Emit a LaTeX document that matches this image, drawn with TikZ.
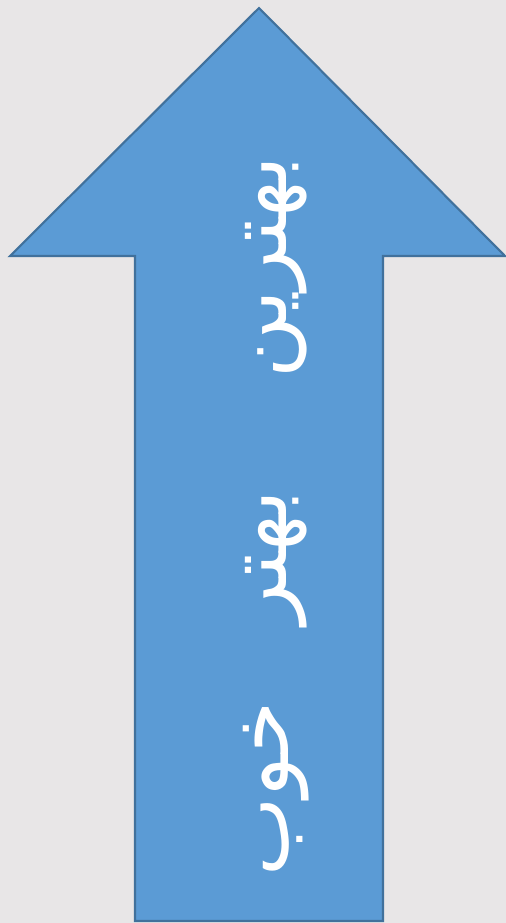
\documentclass[tikz,border=0pt]{standalone}
\usepackage{fontspec}
\newfontfamily\arabicfont[Script=Arabic]{DejaVu Sans}
\TeXXeTstate=1
\usepackage{tikz}
\usetikzlibrary{positioning,calc}
\definecolor{bgGray}{HTML}{E8E6E7}
\definecolor{arrowBlue}{HTML}{5B9BD5}
\definecolor{arrowEdge}{HTML}{41719C}

\begin{document}
\begin{tikzpicture}[
    x=0.02cm, y=-0.02cm,
    word/.style={text=white, rotate=90, inner sep=0pt, font=\arabicfont\fontsize{48}{54}\selectfont}
]
    \fill[bgGray] (0,0) rectangle (506,923);
    \useasboundingbox (0,0) rectangle (506,923);

    \draw[arrowEdge, fill=arrowBlue, line width=1.2pt, line join=miter]
        (259,8) -- (505,256) -- (383,256) -- (383,921) -- (135,921) -- (135,256) -- (10,256) -- cycle;

    \node[word] (best) at (276,267) {\beginR بهترین\endR};
    \node[word] (better) at (276,557) {\beginR بهتر\endR};
    \node[word] (good) at (276,789) {\beginR خوب\endR};
\end{tikzpicture}
\end{document}
